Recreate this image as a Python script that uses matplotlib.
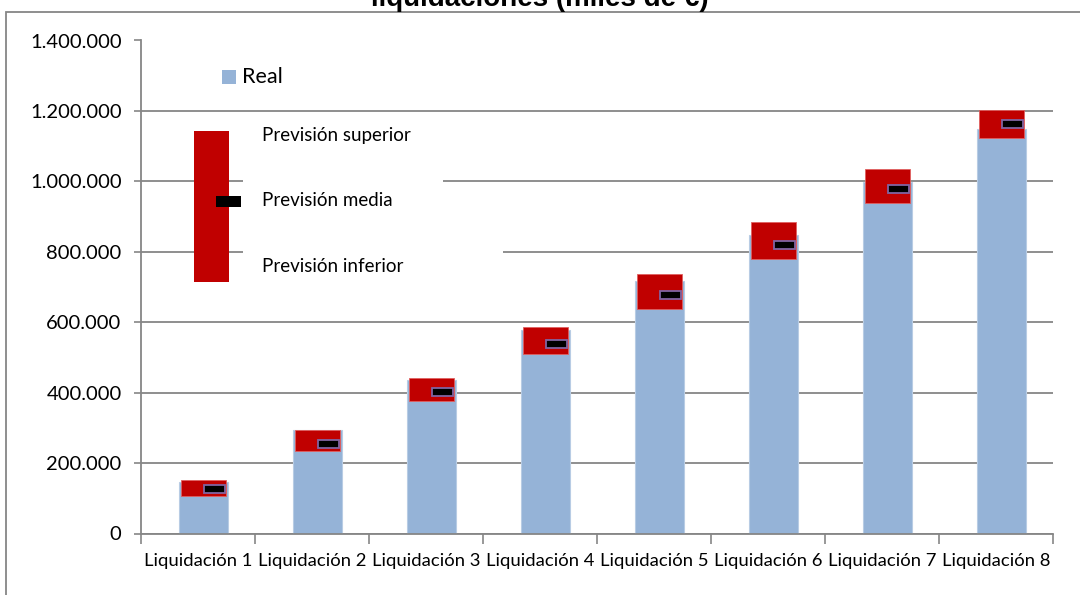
import numpy as np
import matplotlib.pyplot as plt
from matplotlib.patches import Rectangle
from matplotlib.ticker import FuncFormatter, FixedLocator

categorias = ["Liquidación %d" % i for i in range(1, 9)]
real = [147000, 294000, 436000, 578000, 717000, 848000, 999000, 1149000]
prev_superior = [152000, 294000, 441000, 585000, 736000, 884000, 1035000, 1203000]
prev_inferior = [107000, 235000, 377000, 510000, 638000, 780000, 938000, 1124000]
prev_media = [126000, 254000, 402000, 539000, 677000, 819000, 979000, 1162000]

azul = "#95b3d7"
rojo = "#c00000"
gris = "#868686"

plt.rcParams['font.family'] = ['Lato', 'DejaVu Sans']

W, H = 1080, 595
fig = plt.figure(figsize=(W / 100, H / 100), dpi=100)
ax = fig.add_axes([141 / W, 1 - 533.5 / H, (1053 - 141) / W, (533.5 - 40.5) / H])

x = np.arange(len(categorias))
off = 0.045

ax.bar(x + off, real, width=0.43, color=azul, edgecolor="#b8cce4", linewidth=0.8, zorder=2)
alto = np.array(prev_superior) - np.array(prev_inferior)
ax.bar(x + off, alto, bottom=prev_inferior, width=0.395, color=rojo, edgecolor="#e06060",
       linewidth=0.6, zorder=3)

# marcador de la previsión media, desplazado hacia la derecha de cada barra
h_marca = 23000
ax.bar(x + 0.145, h_marca, bottom=np.array(prev_media) - h_marca / 2, width=0.184,
       color="black", edgecolor="#8064a2", linewidth=1.3, zorder=4)

ax.set_xlim(-0.5, 7.5)
ax.set_ylim(0, 1400000)
ax.set_yticks(np.arange(0, 1400001, 200000))
ax.yaxis.set_major_formatter(FuncFormatter(lambda v, p: f"{int(v):,}".replace(",", ".")))
ax.set_xticks(x)
ax.set_xticklabels(categorias)
ax.xaxis.set_minor_locator(FixedLocator(np.arange(-0.5, 8, 1)))
ax.tick_params(axis='x', which='major', length=0, pad=14, labelsize=13.3, colors="black")
ax.tick_params(axis='x', which='minor', length=7, width=1.2, color=gris)
ax.tick_params(axis='y', length=5, width=1.2, color=gris, labelsize=14.5, pad=9)

ax.grid(axis='y', color=gris, linewidth=1.3, zorder=0)
ax.set_axisbelow(True)
for s in ["top", "right"]:
    ax.spines[s].set_visible(False)
for s in ["left", "bottom"]:
    ax.spines[s].set_color(gris)
    ax.spines[s].set_linewidth(1.3)


def px(xp, yp):
    # píxeles de la figura -> fracción de la figura
    return xp / W, 1 - yp / H


# leyenda dibujada a mano
def caja(x0, y0, x1, y1, color, z=5):
    fx, fy = px(x0, y1)
    fig.add_artist(Rectangle((fx, fy), (x1 - x0) / W, (y1 - y0) / H, facecolor=color,
                             edgecolor="none", zorder=z))


caja(243, 120, 443, 240, "white", z=4)
caja(243, 240, 503, 292, "white", z=4)
caja(222, 70, 236, 84, azul)
caja(194, 131, 229, 282, rojo)
caja(216, 196, 241, 207, "black", z=6)

fig.text(*px(242, 77), "Real", fontsize=15.5, va="center", ha="left", zorder=7)
fig.text(*px(262, 136), "Previsión superior", fontsize=13.5, va="center", ha="left", zorder=7)
fig.text(*px(262, 201), "Previsión media", fontsize=13.5, va="center", ha="left", zorder=7)
fig.text(*px(262, 267), "Previsión inferior", fontsize=13.5, va="center", ha="left", zorder=7)

# título (la parte superior queda fuera de la imagen)
fig.text(*px(540, 6), "liquidaciones (miles de €)", fontsize=20, fontweight="bold",
         family="Liberation Sans", ha="center", va="baseline")

# marco del gráfico
fx, fy = px(6, 1000)
fig.add_artist(Rectangle((fx, fy), 2, 1 - 12 / H - fy, facecolor="none", edgecolor=gris,
                         linewidth=1.3, zorder=1))

fig.savefig("out.png", dpi=100)
